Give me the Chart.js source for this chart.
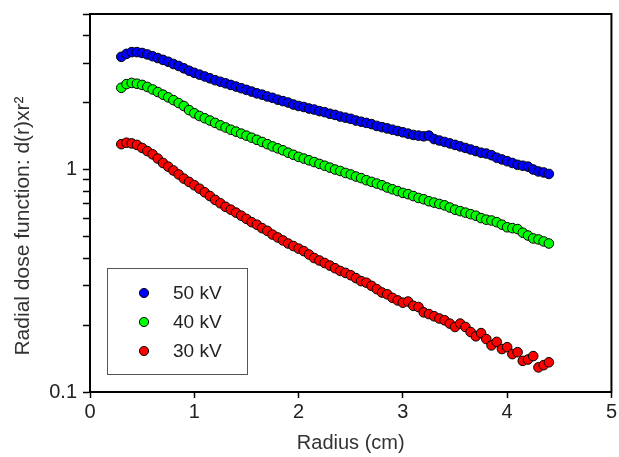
<!DOCTYPE html>
<html>
<head>
<meta charset="utf-8">
<script src="https://cdn.jsdelivr.net/npm/chart.js@4.4.1/dist/chart.umd.min.js"></script>
<style>
  html, body { margin: 0; padding: 0; background: #fff; }
</style>
</head>
<body>
<canvas id="myChart" width="619" height="457"></canvas>
<script>
// Radius in cm (x values)
const radius = [
  0.30, 0.35, 0.40, 0.45, 0.50, 0.55, 0.60, 0.65, 0.70, 0.75,
  0.80, 0.85, 0.90, 0.95, 1.00, 1.05, 1.10, 1.15, 1.20, 1.25,
  1.30, 1.35, 1.40, 1.45, 1.50, 1.55, 1.60, 1.65, 1.70, 1.75,
  1.80, 1.85, 1.90, 1.95, 2.00, 2.05, 2.10, 2.15, 2.20, 2.25,
  2.30, 2.35, 2.40, 2.45, 2.50, 2.55, 2.60, 2.65, 2.70, 2.75,
  2.80, 2.85, 2.90, 2.95, 3.00, 3.05, 3.10, 3.15, 3.20, 3.25,
  3.30, 3.35, 3.40, 3.45, 3.50, 3.55, 3.60, 3.65, 3.70, 3.75,
  3.80, 3.85, 3.90, 3.95, 4.00, 4.05, 4.10, 4.15, 4.20, 4.25,
  4.30, 4.35, 4.40
];

// Radial dose function d(r) x r^2
const dose50kV = [
  3.21, 3.31, 3.37, 3.37, 3.34, 3.29, 3.23, 3.17, 3.11, 3.05,
  2.98, 2.92, 2.85, 2.78, 2.72, 2.67, 2.62, 2.57, 2.52, 2.48,
  2.44, 2.40, 2.36, 2.32, 2.28, 2.24, 2.20, 2.17, 2.13, 2.10,
  2.06, 2.03, 2.00, 1.96, 1.93, 1.91, 1.88, 1.86, 1.83, 1.81,
  1.78, 1.76, 1.73, 1.71, 1.69, 1.66, 1.64, 1.62, 1.60, 1.57,
  1.55, 1.53, 1.51, 1.49, 1.47, 1.45, 1.43, 1.42, 1.41, 1.42,
  1.37, 1.35, 1.33, 1.31, 1.29, 1.27, 1.25, 1.23, 1.21, 1.19,
  1.18, 1.16, 1.13, 1.11, 1.09, 1.07, 1.05, 1.04, 1.03, 1.00,
  0.98, 0.97, 0.955
];
const dose40kV = [
  2.33, 2.42, 2.45, 2.43, 2.40, 2.35, 2.29, 2.23, 2.17, 2.11,
  2.05, 1.99, 1.93, 1.85, 1.79, 1.74, 1.70, 1.66, 1.62, 1.58,
  1.545, 1.51, 1.48, 1.45, 1.42, 1.39, 1.36, 1.33, 1.30, 1.27,
  1.245, 1.22, 1.19, 1.165, 1.14, 1.12, 1.10, 1.08, 1.06, 1.04,
  1.02, 1.00, 0.985, 0.965, 0.95, 0.93, 0.915, 0.895, 0.88, 0.865,
  0.85, 0.83, 0.815, 0.80, 0.785, 0.775, 0.76, 0.745, 0.735, 0.72,
  0.71, 0.70, 0.69, 0.675, 0.66, 0.65, 0.64, 0.63, 0.62, 0.605,
  0.595, 0.59, 0.58, 0.565, 0.55, 0.545, 0.54, 0.52, 0.505, 0.49,
  0.485, 0.475, 0.465
];
const dose30kV = [
  1.30, 1.32, 1.31, 1.29, 1.25, 1.21, 1.17, 1.12, 1.07, 1.03,
  0.99, 0.95, 0.91, 0.88, 0.85, 0.82, 0.79, 0.76, 0.73, 0.705,
  0.68, 0.66, 0.64, 0.62, 0.60, 0.58, 0.565, 0.545, 0.53, 0.51,
  0.495, 0.48, 0.465, 0.453, 0.441, 0.43, 0.415, 0.40, 0.39, 0.38,
  0.37, 0.36, 0.35, 0.343, 0.335, 0.325, 0.315, 0.31, 0.30, 0.29,
  0.28, 0.275, 0.265, 0.258, 0.252, 0.255, 0.244, 0.241, 0.228, 0.224,
  0.219, 0.214, 0.210, 0.203, 0.196, 0.203, 0.196, 0.186, 0.178, 0.184,
  0.173, 0.162, 0.168, 0.156, 0.159, 0.148, 0.151, 0.138, 0.140, 0.145,
  0.129, 0.132, 0.136
];

const seriesLabels = ['50 kV', '40 kV', '30 kV'];
const seriesColors = ['#0000ff', '#00ff00', '#ff0000'];

// Axis ticks
const xTicks = [0, 1, 2, 3, 4, 5];
const yTicks = [0.1, 0.2, 0.3, 0.4, 0.5, 0.6, 0.7, 0.8, 0.9, 1, 2, 3, 4, 5];
const yLabelled = [0.1, 1];
const yTitle = 'Radial dose function: d(r)xr\u00B2';

const FONT = "'Liberation Sans', Arial, Helvetica, sans-serif";

function toPoints(ys) {
  return ys.map((y, i) => ({ x: radius[i], y: y }));
}

// box around the plot, y title, legend inside the plot
const framePlugin = {
  id: 'frame',
  afterDraw(chart) {
    const { ctx, chartArea } = chart;
    ctx.save();
    ctx.strokeStyle = '#000';
    ctx.lineWidth = 2;
    ctx.strokeRect(chartArea.left, chartArea.top, chartArea.right - chartArea.left, chartArea.bottom - chartArea.top);

    // y axis title (sits a bit below the middle in the original)
    ctx.save();
    ctx.translate(23, (chartArea.top + chartArea.bottom) / 2 + 23);
    ctx.rotate(-Math.PI / 2);
    ctx.font = '21px ' + FONT;
    ctx.fillStyle = '#333';
    ctx.textAlign = 'center';
    ctx.textBaseline = 'middle';
    ctx.fillText(yTitle, 0, 0);
    ctx.restore();

    // legend box
    const bx = chartArea.left + 17;
    const by = chartArea.top + 254;
    ctx.lineWidth = 1;
    ctx.strokeStyle = '#555';
    ctx.strokeRect(bx + 0.5, by + 0.5, 140, 106);

    ctx.font = '19px ' + FONT;
    ctx.textBaseline = 'middle';
    chart.data.datasets.forEach((ds, i) => {
      const cy = by + 25 + i * 29;
      ctx.beginPath();
      ctx.arc(bx + 37, cy, 4.6, 0, Math.PI * 2);
      ctx.fillStyle = ds.backgroundColor;
      ctx.fill();
      ctx.strokeStyle = '#000';
      ctx.lineWidth = 1;
      ctx.stroke();
      ctx.fillStyle = '#222';
      ctx.fillText(ds.label, bx + 66, cy + 1);
    });
    ctx.restore();
  }
};

const ctx = document.getElementById('myChart').getContext('2d');
const myChart = new Chart(ctx, {
  type: 'scatter',
  data: {
    datasets: [dose50kV, dose40kV, dose30kV].map((d, i) => ({
      label: seriesLabels[i],
      data: toPoints(d),
      backgroundColor: seriesColors[i],
      borderColor: '#000',
      borderWidth: 1,
      pointRadius: 4.8,
      showLine: false
    }))
  },
  options: {
    responsive: false,
    animation: false,
    layout: { padding: { top: 14, right: 2, left: 0, bottom: 0 } },
    plugins: {
      legend: { display: false },
      tooltip: { enabled: false }
    },
    scales: {
      x: {
        type: 'linear',
        min: 0,
        max: 5,
        afterBuildTicks: (scale) => { scale.ticks = xTicks.map(v => ({ value: v })); },
        afterFit: (scale) => { scale.height = 65; },
        border: { color: '#000', width: 2 },
        grid: { drawOnChartArea: false, drawTicks: true, tickLength: 6, tickColor: '#000', tickWidth: 1.5 },
        ticks: { color: '#222', font: { family: FONT, size: 20 }, padding: 2, maxRotation: 0 },
        title: { display: true, text: 'Radius (cm)', color: '#333', font: { family: FONT, size: 20 }, padding: { top: 0, bottom: 2 } }
      },
      y: {
        type: 'logarithmic',
        min: 0.1,
        max: 5,
        afterBuildTicks: (scale) => { scale.ticks = yTicks.map(v => ({ value: v })); },
        afterFit: (scale) => {
          scale.width = 90;
          scale.paddingTop = 0;
          scale.paddingBottom = 0;
        },
        border: { color: '#000', width: 2 },
        grid: { drawOnChartArea: false, drawTicks: true, tickLength: 7, tickColor: '#000', tickWidth: 1.5 },
        ticks: {
          autoSkip: false,
          color: '#222',
          font: { family: FONT, size: 20 },
          padding: 6,
          callback: (value) => yLabelled.includes(value) ? String(value) : ''
        }
      }
    }
  },
  plugins: [framePlugin]
});
</script>
</body>
</html>
